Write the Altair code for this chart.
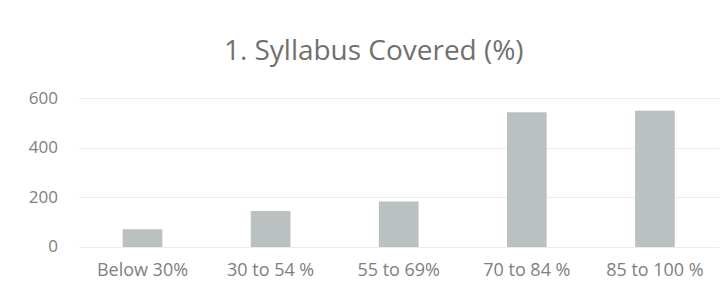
import altair as alt
import pandas as pd

categories = ["Below 30%", "30 to 54 %", "55 to 69%", "70 to 84 %", "85 to 100 %"]
values = [71, 145, 183, 543, 549]
y_ticks = [0, 200, 400, 600]

df = pd.DataFrame({"category": categories, "value": values})

chart = alt.Chart(df).mark_bar(color="#bbc1c0").encode(
    x=alt.X("category:N", sort=categories, title=None,
            scale=alt.Scale(paddingInner=0.69, paddingOuter=0.345),
            axis=alt.Axis(labelAngle=0, labelFont="Open Sans", labelFontSize=18,
                          labelColor="#808080", domain=False, ticks=False,
                          labelPadding=15, grid=False)),
    y=alt.Y("value:Q", title=None,
            scale=alt.Scale(domain=[0, 600]),
            axis=alt.Axis(values=y_ticks, labelFont="Open Sans", labelFontSize=17,
                          labelColor="#808080", domain=False, ticks=False,
                          labelPadding=21, gridColor="#ececec", gridWidth=1)),
).properties(
    width=641, height=149,
    autosize=alt.AutoSizeParams(type="none"),
    padding={"left": 70.5, "top": 90, "right": 0, "bottom": 45},
    title=alt.TitleParams("1. Syllabus Covered (%)", font="Open Sans", fontSize=28,
                          fontWeight="normal", color="#707070", anchor="middle",
                          offset=23, dx=-25),
).configure_view(stroke=None)

chart.save("out.html", embed_options={"renderer": "svg", "actions": False})
